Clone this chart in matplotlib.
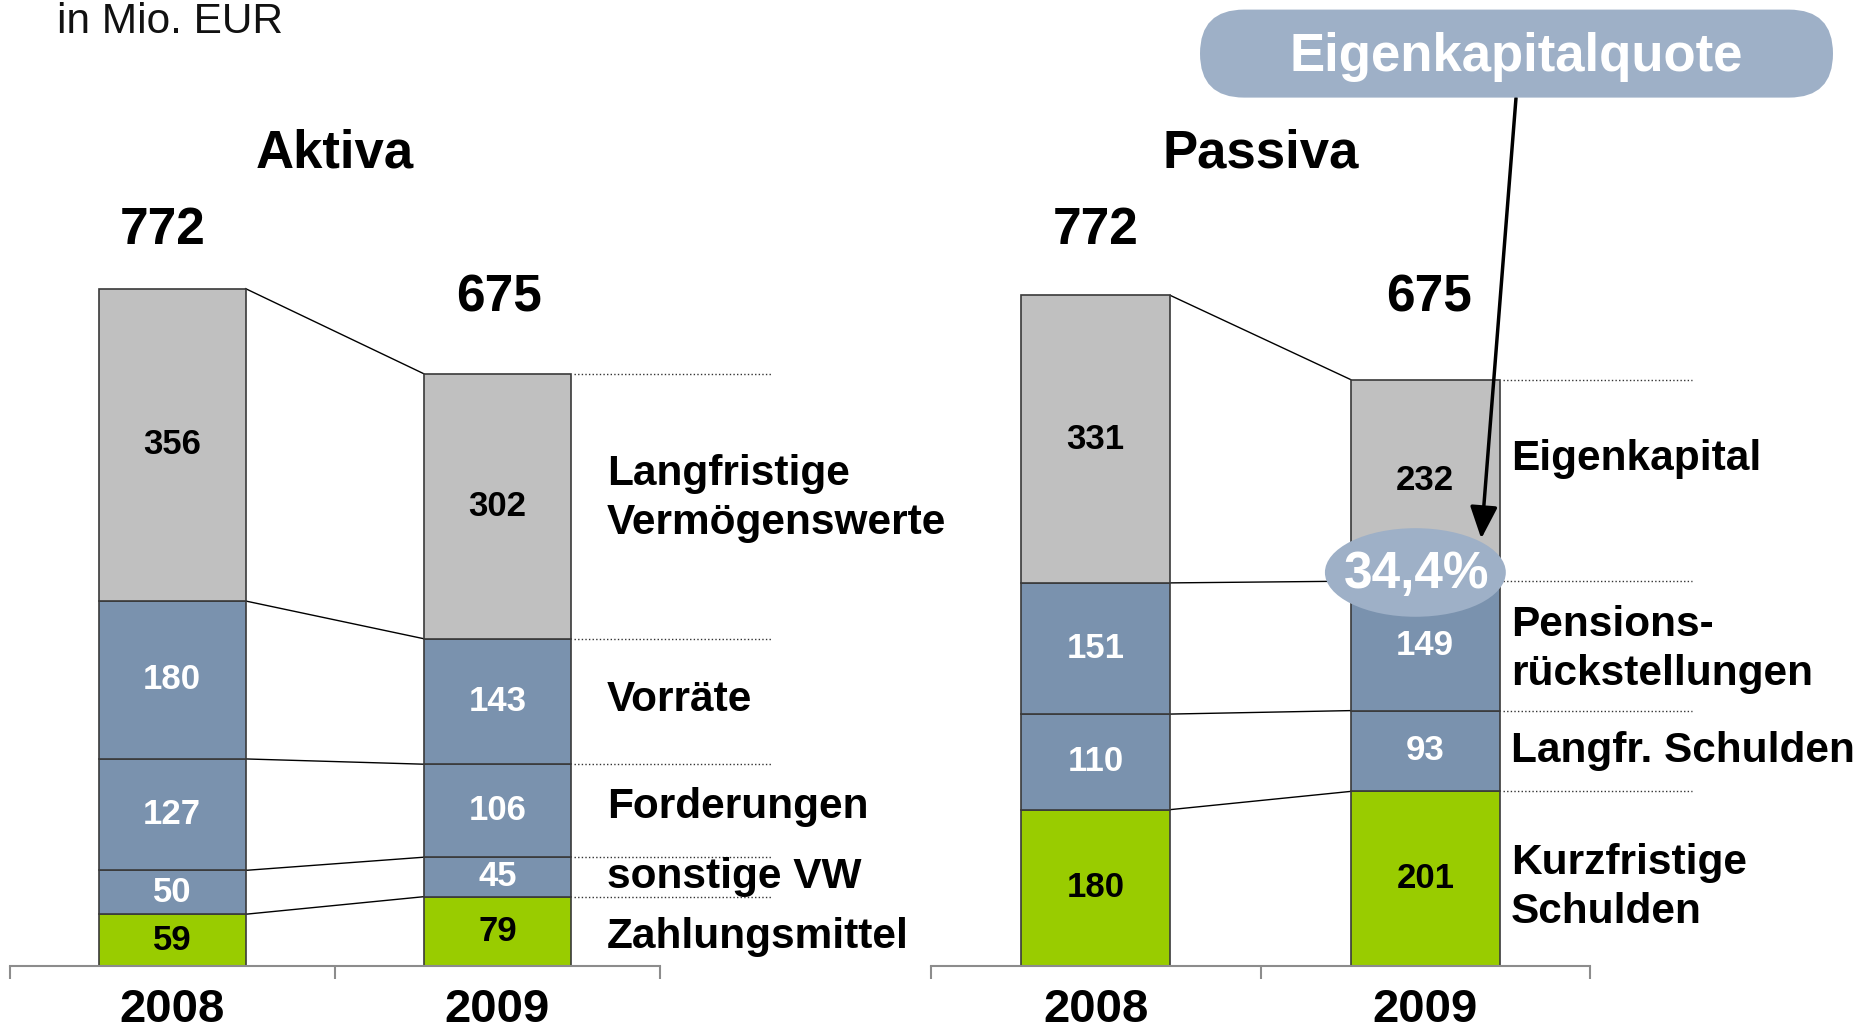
import matplotlib
matplotlib.use("Agg")
import matplotlib.pyplot as plt
import matplotlib.transforms as mtransforms
from matplotlib.patches import Ellipse, FancyBboxPatch

plt.rcParams['font.family'] = ['Liberation Sans', 'DejaVu Sans']

# ---------------- data ----------------
years = ['2008', '2009']

aktiva_labels = ['Zahlungsmittel', 'sonstige VW', 'Forderungen', 'Vorräte',
                 'Langfristige\nVermögenswerte']
aktiva_2008 = [59, 50, 127, 180, 356]
aktiva_2009 = [79, 45, 106, 143, 302]
aktiva_totals = [772, 675]

passiva_labels = ['Kurzfristige\nSchulden', 'Langfr. Schulden',
                  'Pensions-\nrückstellungen', 'Eigenkapital']
passiva_2008 = [180, 110, 151, 331]
passiva_2009 = [201, 93, 149, 232]
passiva_totals = [772, 675]

equity_ratio_text = '34,4%'
unit_text = 'in Mio. EUR'
callout_text = 'Eigenkapitalquote'

# ---------------- style ----------------
GRAY = '#C0C0C0'
BLUE = '#7A92AE'
GREEN = '#99CC00'
LIGHT = '#9EB0C7'
aktiva_colors = [GREEN, BLUE, BLUE, BLUE, GRAY]
passiva_colors = [GREEN, BLUE, BLUE, GRAY]
txt_colors = {GREEN: 'black', BLUE: 'white', GRAY: 'black'}

W, H = 1866, 1033
fig = plt.figure(figsize=(W / 100, H / 100), dpi=100)
fig.patch.set_facecolor('white')

BAR_W = 0.452


def cum(vals):
    out, s = [], 0
    for v in vals:
        s += v
        out.append(s)
    return out


def panel(ax, labels, v08, v09, colors, totals, title, ytop,
          label_x, nudges, dot_end, total_dx):
    ax.set_xlim(-0.5, 1.5)
    ax.set_ylim(0, ytop)
    for s in ['top', 'left', 'right']:
        ax.spines[s].set_visible(False)
    ax.spines['bottom'].set_color('#8c8c8c')
    ax.spines['bottom'].set_linewidth(1.5)
    ax.set_yticks([])
    ax.set_xticks([0, 1])
    ax.set_xticklabels(years, fontsize=34, fontweight='bold')
    ax.set_xticks([-0.5, 0.5, 1.5], minor=True)
    ax.tick_params(axis='x', which='major', length=0, pad=16)
    ax.tick_params(axis='x', which='minor', length=9, width=1.5,
                   color='#8c8c8c', direction='out')

    for xi, vals in enumerate([v08, v09]):
        bottom = 0
        for v, c in zip(vals, colors):
            ax.bar(xi, v, bottom=bottom, width=BAR_W, color=c,
                   edgecolor='#3a3a3a', linewidth=1.2, zorder=2)
            ax.text(xi, bottom + v / 2, str(v), ha='center', va='center',
                    fontsize=25, fontweight='bold', color=txt_colors[c],
                    zorder=4)
            bottom += v

    c08, c09 = cum(v08), cum(v09)
    for a, b in zip(c08, c09):
        ax.plot([BAR_W / 2, 1 - BAR_W / 2], [a, b], color='black', lw=1.0,
                zorder=1)
    for b in c09:
        ax.plot([1 + BAR_W / 2 + 0.01, dot_end], [b, b], color='#333333',
                lw=1.0, ls=(0, (1, 1.6)), clip_on=False, zorder=1)

    prev = 0
    for lab, top, nd in zip(labels, c09, nudges):
        ax.text(label_x, (prev + top) / 2 + nd, lab, ha='left', va='center',
                fontsize=30.5, fontweight='bold', linespacing=1.27,
                clip_on=False)
        prev = top

    bt = mtransforms.blended_transform_factory(ax.transData, fig.transFigure)
    for xi, (t, yb, dx) in enumerate(zip(totals, [244, 312], total_dx)):
        ax.text(xi + dx, 1 - yb / H, str(t), transform=bt, ha='center',
                va='baseline', fontsize=37, fontweight='bold')
    ta = mtransforms.blended_transform_factory(ax.transAxes, fig.transFigure)
    ax.text(0.5, 1 - 167 / H, title, transform=ta, ha='center',
            va='baseline', fontsize=38, fontweight='bold')


ax1 = fig.add_axes([9.5 / W, (H - 966) / H, 650.5 / W, 966 / H])
ax2 = fig.add_axes([931 / W, (H - 966) / H, 659 / W, 966 / H])
for a in (ax1, ax2):
    a.patch.set_alpha(0)

panel(ax1, aktiva_labels, aktiva_2008, aktiva_2009, aktiva_colors,
      aktiva_totals, 'Aktiva', 1101, 1.337, [-7, 0, 4, 2, 9], 1.84,
      [-0.028, 0.005])
panel(ax2, passiva_labels, passiva_2008, passiva_2009, passiva_colors,
      passiva_totals, 'Passiva', 1112, 1.26, [-10, 0, -4, 25], 1.81,
      [0.0, 0.01])

# equity ratio bubble on the 2009 equity boundary
eq_level = cum(passiva_2009)[2]
ex, ey = 1 - 0.03, eq_level + 10
ell = Ellipse((ex, ey), width=0.549, height=102, facecolor=LIGHT,
              edgecolor='none', zorder=5, clip_on=False)
ax2.add_patch(ell)
ax2.text(ex + 0.005, ey - 2, equity_ratio_text, ha='center', va='center',
         fontsize=37, fontweight='bold', color='white', zorder=6)

# callout pill
pill = FancyBboxPatch((1200, H - 97.6), 633, 88,
                      boxstyle='round,pad=0,rounding_size=44',
                      transform=mtransforms.IdentityTransform(),
                      facecolor=LIGHT, edgecolor='none', zorder=3)
fig.add_artist(pill)
fig.text(1516 / W, 1 - 57 / H, callout_text, ha='center', va='center',
         fontsize=38, fontweight='bold', color='white', zorder=4)

ax2.annotate('', xy=(ex + 0.2, ey + 39), xycoords='data',
             xytext=(1516 / W, 1 - 98 / H), textcoords='figure fraction',
             arrowprops=dict(arrowstyle='-|>,head_length=0.7,head_width=0.3',
                             color='black', lw=2.5, shrinkA=0, shrinkB=0,
                             mutation_scale=28),
             zorder=7)

fig.text(57 / W, 1 - 33 / H, unit_text, ha='left', va='baseline',
         fontsize=30.5, color='#111111')

fig.savefig('out.png', dpi=100)
